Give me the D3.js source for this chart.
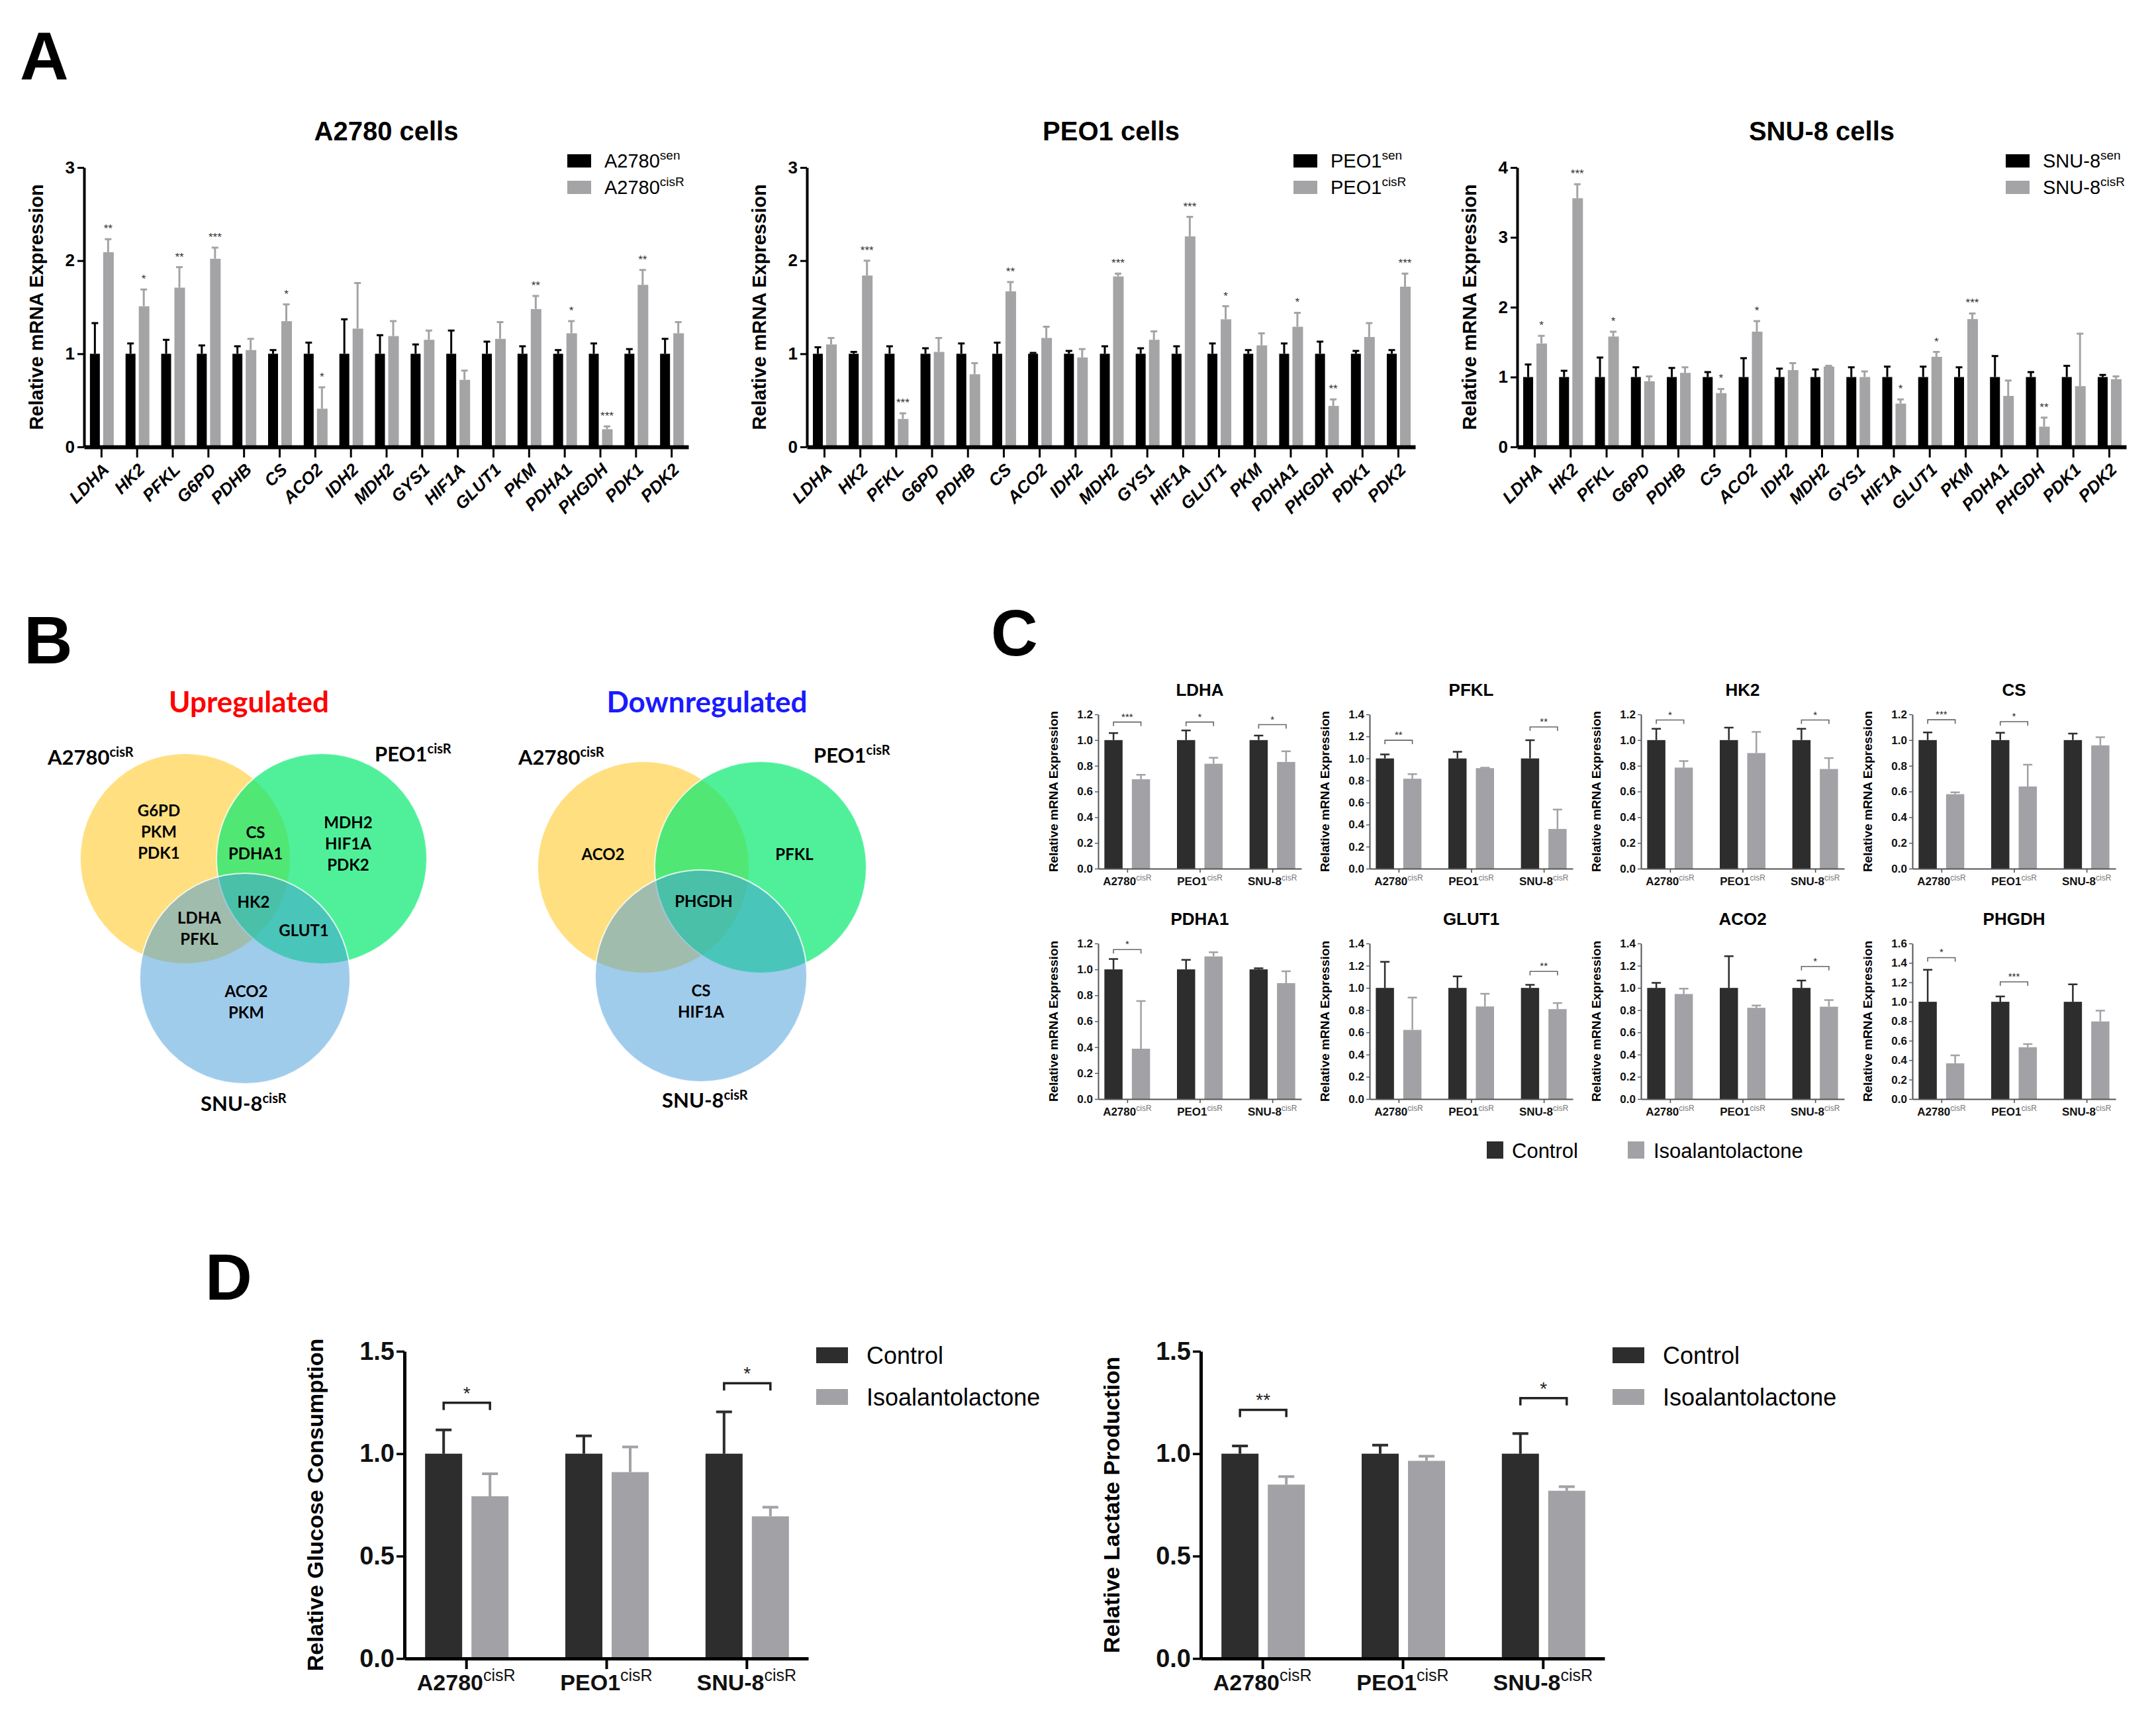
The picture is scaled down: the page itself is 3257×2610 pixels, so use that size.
<!DOCTYPE html>
<html><head><meta charset="utf-8">
<script src="https://cdn.jsdelivr.net/npm/d3@7"></script>
<style>body{margin:0;background:#fff}svg{display:block}</style>
</head><body><svg id="fig" width="3257" height="2610"></svg>
<script>
// ---------------- DATA ----------------
// Panel A
const genes = ["LDHA","HK2","PFKL","G6PD","PDHB","CS","ACO2","IDH2","MDH2","GYS1","HIF1A","GLUT1","PKM","PDHA1","PHGDH","PDK1","PDK2"];
const a2780Sen    = [1,1,1,1,1,1,1,1,1,1,1,1,1,1,1,1,1];
const a2780SenErr = [0.33,0.11,0.15,0.09,0.08,0.04,0.12,0.37,0.20,0.10,0.25,0.13,0.08,0.04,0.11,0.05,0.16];
const a2780Cis    = [2.09,1.51,1.71,2.02,1.04,1.35,0.41,1.27,1.19,1.15,0.72,1.16,1.48,1.22,0.19,1.74,1.22];
const a2780CisErr = [0.14,0.18,0.22,0.12,0.12,0.18,0.23,0.49,0.16,0.10,0.10,0.18,0.14,0.13,0.03,0.16,0.12];
const a2780Sig    = ["**","*","**","***","","*","*","","","","","","**","*","***","**",""];
const peo1Sen     = [1,1,1,1,1,1,1,1,1,1,1,1,1,1,1,1,1];
const peo1SenErr  = [0.07,0.02,0.08,0.06,0.11,0.12,0.01,0.03,0.08,0.06,0.08,0.11,0.04,0.11,0.13,0.03,0.04];
const peo1Cis     = [1.10,1.84,0.30,1.02,0.78,1.67,1.17,0.96,1.83,1.15,2.26,1.37,1.09,1.29,0.44,1.18,1.72];
const peo1CisErr  = [0.07,0.16,0.06,0.15,0.12,0.10,0.12,0.09,0.03,0.09,0.21,0.14,0.13,0.15,0.07,0.15,0.14];
const peo1Sig     = ["","***","***","","","**","","","***","","***","*","","*","**","","***"];
const snu8Sen     = [1,1,1,1,1,1,1,1,1,1,1,1,1,1,1,1,1];
const snu8SenErr  = [0.18,0.09,0.28,0.14,0.13,0.07,0.27,0.12,0.11,0.14,0.15,0.15,0.14,0.30,0.07,0.16,0.03];
const snu8Cis     = [1.48,3.56,1.58,0.94,1.06,0.77,1.65,1.10,1.15,1.00,0.62,1.29,1.83,0.73,0.29,0.87,0.97];
const snu8CisErr  = [0.11,0.20,0.07,0.07,0.08,0.06,0.15,0.10,0.01,0.08,0.06,0.07,0.08,0.22,0.13,0.75,0.04];
const snu8Sig     = ["*","***","*","","","*","*","","","","*","*","***","","**","",""];

// Panel B (Venn contents)
const vennSets = ["A2780","PEO1","SNU-8"];
const upA = ["G6PD","PKM","PDK1"], upP = ["MDH2","HIF1A","PDK2"], upS = ["ACO2","PKM"];
const upAP = ["CS","PDHA1"], upAS = ["LDHA","PFKL"], upPS = ["GLUT1"], upAPS = ["HK2"];
const dnA = ["ACO2"], dnP = ["PFKL"], dnS = ["CS","HIF1A"], dnAPS = ["PHGDH"];

// Panel C
const cellLines = ["A2780","PEO1","SNU-8"];
const cGenes   = ["LDHA","PFKL","HK2","CS","PDHA1","GLUT1","ACO2","PHGDH"];
const cYMax    = [1.2,1.4,1.2,1.2,1.2,1.4,1.4,1.6];
const cCtrl    = [[1,1,1],[1,1,1],[1,1,1],[1,1,1],[1,1,1],[1,1,1],[1,1,1],[1,1,1]];
const cCtrlErr = [[0.055,0.075,0.035],[0.037,0.06,0.165],[0.088,0.097,0.088],[0.06,0.057,0.051],[0.08,0.074,0.009],[0.234,0.103,0.027],[0.045,0.286,0.066],[0.33,0.055,0.18]];
const cIso     = [[0.695,0.816,0.83],[0.816,0.912,0.36],[0.786,0.899,0.775],[0.579,0.639,0.959],[0.388,1.10,0.894],[0.622,0.833,0.809],[0.945,0.821,0.831],[0.367,0.533,0.798]];
const cIsoErr  = [[0.035,0.047,0.083],[0.041,0.004,0.176],[0.051,0.165,0.085],[0.015,0.169,0.063],[0.368,0.032,0.091],[0.291,0.114,0.055],[0.048,0.02,0.059],[0.083,0.032,0.111]];
const cSig     = [["***","*","*"],["**","","**"],["*","","*"],["***","*",""],["*","",""],["","","**"],["","","*"],["*","***",""]];
const cBracket = [[1.14,1.14,1.12],[1.165,null,1.286],[1.156,null,1.156],[1.158,1.143,null],[1.153,null,null],[null,null,1.148],[null,null,1.193],[1.454,1.205,null]];

// Panel D
const glucoseCtrl = [1,1,1], glucoseCtrlErr = [0.116,0.087,0.204];
const glucoseIso = [0.792,0.91,0.694], glucoseIsoErr = [0.11,0.123,0.045];
const glucoseSig = ["*","","*"], glucoseBracket = [1.249,null,1.344];
const lactateCtrl = [1,1,1], lactateCtrlErr = [0.038,0.042,0.098];
const lactateIso = [0.849,0.965,0.819], lactateIsoErr = [0.039,0.023,0.02];
const lactateSig = ["**","","*"], lactateBracket = [1.214,null,1.271];
const legendLabels = ["Control","Isoalantolactone"];

// ---------------- DRAW ----------------
const FONT = "'Liberation Sans', Arial, Helvetica, sans-serif";
const VFONT = "Lato, 'Open Sans', sans-serif";
const svg = d3.select("#fig").attr("font-family", FONT);
svg.append("rect").attr("width",3257).attr("height",2610).attr("fill","#fff");

function letter(t, x, y, size) {
  svg.append("text").attr("x",x).attr("y",y).attr("font-size",size).attr("font-weight","bold").text(t);
}
letter("A", 30, 120, 102);
letter("B", 36, 1002, 102);
letter("C", 1497, 990, 98);
letter("D", 310, 1963, 98);

function errPath(cx, yTop, yErr, cw) {
  return `M${cx},${yTop}V${yErr}M${cx-cw/2},${yErr}H${cx+cw/2}`;
}

// ---------- Panel A ----------
function panelA(o) {
  const g = svg.append("g");
  const x = d3.scalePoint().domain(genes).range([o.x0, o.x1]).padding(0.48);
  const y = d3.scaleLinear().domain([0, o.ymax]).range([675, 253]);
  const rows = genes.map((k,i)=>({k, sen:o.sen[i], senErr:o.senErr[i], cis:o.cis[i], cisErr:o.cisErr[i], sig:o.sig[i]}));
  const bw = 15, black = "#000", gray = "#a4a4a6";
  g.selectAll("rect.sen").data(rows).join("rect").attr("class","sen")
    .attr("x", d=>x(d.k)-bw-2).attr("y", d=>y(d.sen)).attr("width", bw).attr("height", d=>y(0)-y(d.sen)).attr("fill", black);
  g.selectAll("rect.cis").data(rows).join("rect").attr("class","cis")
    .attr("x", d=>x(d.k)+3).attr("y", d=>y(d.cis)).attr("width", bw+1).attr("height", d=>y(0)-y(d.cis)).attr("fill", gray);
  g.selectAll("path.senErr").data(rows).join("path").attr("class","senErr")
    .attr("d", d=>errPath(x(d.k)-bw/2-2, y(d.sen), y(d.sen+d.senErr), 10)).attr("stroke", black).attr("stroke-width",3).attr("fill","none");
  g.selectAll("path.cisErr").data(rows).join("path").attr("class","cisErr")
    .attr("d", d=>errPath(x(d.k)+3+bw/2, y(d.cis), y(d.cis+d.cisErr), 10)).attr("stroke", gray).attr("stroke-width",3).attr("fill","none");
  g.selectAll("text.sig").data(rows.filter(d=>d.sig)).join("text").attr("class","sig")
    .attr("x", d=>x(d.k)+3+bw/2).attr("y", d=>y(d.cis+d.cisErr)-10)
    .attr("text-anchor","middle").attr("font-size",17).attr("fill","#333").text(d=>d.sig);
  // axes
  g.append("g").attr("transform",`translate(${o.x0},0)`)
    .call(d3.axisLeft(y).tickValues(d3.range(0,o.ymax+1)).tickFormat(d3.format("d")).tickSize(10).tickSizeOuter(0))
    .call(s=>{ s.attr("font-family",FONT).attr("font-size",26).attr("font-weight","bold");
      s.select(".domain").attr("stroke-width",4).attr("stroke","#000");
      s.selectAll(".tick line").attr("stroke-width",3);
      s.selectAll(".tick text").attr("fill","#000").attr("x",-14); });
  g.append("g").attr("transform",`translate(0,${y(0)})`)
    .call(d3.axisBottom(x).tickSize(16).tickSizeOuter(0))
    .call(s=>{ s.attr("font-family",FONT).attr("font-size",26).attr("font-weight","bold").attr("font-style","italic");
      s.select(".domain").attr("stroke-width",6).attr("stroke","#000");
      s.selectAll(".tick line").attr("stroke-width",3);
      s.selectAll(".tick text").attr("fill","#000").attr("x",0).attr("y",0).attr("dy",0)
        .attr("text-anchor","end").attr("transform","translate(13,36) rotate(-45)"); });
  // y title
  g.append("text").attr("transform",`translate(${o.x0-62},${(y(0)+y(o.ymax))/2}) rotate(-90)`)
    .attr("text-anchor","middle").attr("font-size",29).attr("font-weight","bold").text("Relative mRNA Expression");
  // title
  g.append("text").attr("x",(o.x0+o.x1)/2).attr("y",212).attr("text-anchor","middle")
    .attr("font-size",40).attr("font-weight","bold").text(o.title);
  // legend
  const lg = g.append("g").attr("transform",`translate(${o.legendX},0)`);
  [["sen",black,233],["cisR",gray,273]].forEach(([sup,c,yy])=>{
    lg.append("rect").attr("x",0).attr("y",yy).attr("width",36).attr("height",20).attr("fill",c);
    const t = lg.append("text").attr("x",56).attr("y",yy+20).attr("font-size",29).text(o.cell);
    t.append("tspan").attr("dy",-12).attr("font-size",19).text(sup);
  });
}
panelA({x0:127,x1:1040,ymax:3,title:"A2780 cells",cell:"A2780",sen:a2780Sen,senErr:a2780SenErr,cis:a2780Cis,cisErr:a2780CisErr,sig:a2780Sig,legendX:857});
panelA({x0:1219,x1:2138,ymax:3,title:"PEO1 cells",cell:"PEO1",sen:peo1Sen,senErr:peo1SenErr,cis:peo1Cis,cisErr:peo1CisErr,sig:peo1Sig,legendX:1954});
panelA({x0:2292,x1:3212,ymax:4,title:"SNU-8 cells",cell:"SNU-8",sen:snu8Sen,senErr:snu8SenErr,cis:snu8Cis,cisErr:snu8CisErr,sig:snu8Sig,legendX:3030});

// ---------- Panel B (Venn) ----------
function venn(o) {
  const g = svg.append("g");
  const cols = [["rgb(255,192,0)",0.5],["rgb(5,233,112)",0.7],["rgb(65,153,217)",0.5]];
  o.circles.forEach((c,i)=>{
    g.append("circle").attr("cx",c[0]).attr("cy",c[1]).attr("r",o.r)
      .attr("fill",cols[i][0]).attr("fill-opacity",cols[i][1]).attr("stroke","#fff").attr("stroke-width",2).attr("stroke-opacity",0.8);
  });
  g.append("text").attr("x",o.titleX).attr("y",1076).attr("text-anchor","middle").attr("font-family",VFONT)
    .attr("font-size",44).attr("font-weight","bold").attr("fill",o.titleColor).text(o.title);
  o.setLabels.forEach((p,i)=>{
    const t = g.append("text").attr("x",p[0]).attr("y",p[1]).attr("font-family",VFONT).attr("font-size",31).attr("font-weight","bold").text(vennSets[i]);
    t.append("tspan").attr("dy",-12).attr("font-size",20).text("cisR");
  });
  o.regions.forEach(([items,cx,cy])=>{
    const n = items.length;
    items.forEach((s,j)=>{
      g.append("text").attr("x",cx).attr("y",cy+(j-(n-1)/2)*32).attr("dy","0.35em").attr("text-anchor","middle")
        .attr("font-family",VFONT).attr("font-size",24).attr("font-weight","bold").text(s);
    });
  });
}
venn({title:"Upregulated",titleColor:"#ff0000",titleX:376,r:159,
  circles:[[280,1297],[486,1297],[370,1478]],
  setLabels:[[72,1155],[566,1150],[303,1678]],
  regions:[[upA,240,1257],[upP,526,1275],[upS,372,1514],[upAP,386,1274],[upAS,301,1403],[upPS,459,1406],[upAPS,383,1363]]});
venn({title:"Downregulated",titleColor:"#1a1aff",titleX:1068,r:160,
  circles:[[972,1310],[1149,1310],[1059,1474]],
  setLabels:[[783,1155],[1229,1152],[1000,1673]],
  regions:[[dnA,911,1291],[dnP,1200,1291],[dnS,1059,1513],[dnAPS,1063,1362]]});

// ---------- grouped Control/Iso chart (Panels C, D) ----------
const CTRL = "#2d2d2d", ISO = "#a2a2a6";
function grouped(o) {
  const g = svg.append("g");
  const x = d3.scalePoint().domain(cellLines).range([o.ax, o.ax+o.w]).padding(o.pad);
  const y = d3.scaleLinear().domain([0, o.ymax]).range([o.yb, o.yt]);
  const rows = cellLines.map((k,i)=>({k, c:o.ctrl[i], ce:o.ctrlErr[i], v:o.iso[i], ve:o.isoErr[i], sig:o.sig[i], b:o.bracket[i]}));
  const bw = o.barW;
  const cx = d=>x(d.k)+o.ctrlOff+bw/2, ix = d=>x(d.k)+o.isoOff+bw/2;
  g.selectAll("path.ce").data(rows).join("path").attr("class","ce")
    .attr("d", d=>errPath(cx(d), y(d.c), y(d.c+d.ce), o.capW)).attr("stroke",CTRL).attr("stroke-width",o.errW).attr("fill","none");
  g.selectAll("path.ve").data(rows).join("path").attr("class","ve")
    .attr("d", d=>errPath(ix(d), y(d.v), y(d.v+d.ve), o.capW)).attr("stroke",ISO).attr("stroke-width",o.errW).attr("fill","none");
  g.selectAll("rect.c").data(rows).join("rect").attr("class","c")
    .attr("x", d=>x(d.k)+o.ctrlOff).attr("y", d=>y(d.c)).attr("width",bw).attr("height", d=>y(0)-y(d.c)).attr("fill",CTRL);
  g.selectAll("rect.v").data(rows).join("rect").attr("class","v")
    .attr("x", d=>x(d.k)+o.isoOff).attr("y", d=>y(d.v)).attr("width",bw).attr("height", d=>y(0)-y(d.v)).attr("fill",ISO);
  const br = rows.filter(d=>d.b!=null);
  g.selectAll("path.br").data(br).join("path").attr("class","br")
    .attr("d", d=>`M${cx(d)},${y(d.b)+o.brTick}V${y(d.b)}H${ix(d)}V${y(d.b)+o.brTick}`)
    .attr("stroke",o.brColor).attr("stroke-width",o.brW).attr("fill","none");
  g.selectAll("text.sig").data(br).join("text").attr("class","sig")
    .attr("x", d=>(cx(d)+ix(d))/2).attr("y", d=>y(d.b)-o.starGap).attr("text-anchor","middle")
    .attr("font-size",o.starFont).attr("fill","#222").text(d=>d.sig);
  // y axis
  g.append("g").attr("transform",`translate(${o.ax},0)`)
    .call(d3.axisLeft(y).tickValues(d3.range(0, o.ymax+1e-6, o.step)).tickFormat(d3.format(".1f")).tickSize(o.tickSize).tickSizeOuter(0))
    .call(s=>{ s.attr("font-family",FONT).attr("font-size",o.tickFont).attr("font-weight","bold");
      s.select(".domain").attr("stroke-width",o.axisW).attr("stroke",o.axisColor);
      s.selectAll(".tick line").attr("stroke-width",o.axisW*0.7).attr("stroke",o.axisColor);
      s.selectAll(".tick text").attr("fill","#111").attr("x",-(o.tickSize+3)); });
  // x axis
  g.append("g").attr("transform",`translate(0,${o.yb})`)
    .call(d3.axisBottom(x).tickSize(o.xTick).tickSizeOuter(0).tickFormat(""))
    .call(s=>{ s.select(".domain").attr("stroke-width",o.axisW).attr("stroke",o.axisColor);
      s.selectAll(".tick line").attr("stroke-width",o.axisW*0.8).attr("stroke",o.axisColor); });
  g.selectAll("text.xl").data(rows).join("text").attr("class","xl")
    .attr("x", d=>x(d.k)).attr("y", o.yb+o.xLabDy).attr("text-anchor","middle")
    .attr("font-size",o.xFont).attr("font-weight","bold").attr("fill","#111")
    .each(function(d){ const t=d3.select(this); t.text(d.k);
      t.append("tspan").attr("dy",-o.supDy).attr("font-size",o.supFont).attr("font-weight",o.supWeight).attr("fill",o.supColor).text("cisR"); });
  g.append("text").attr("transform",`translate(${o.ax-o.yTitleOff},${(o.yb+o.yt)/2}) rotate(-90)`)
    .attr("text-anchor","middle").attr("font-size",o.yTitleFont).attr("font-weight","bold").text(o.yTitle);
  if (o.title) g.append("text").attr("x",o.ax+o.w/2).attr("y",o.yt-28).attr("text-anchor","middle")
    .attr("font-size",26).attr("font-weight","bold").text(o.title);
}

cGenes.forEach((gn,i)=>{
  const col = i%4, row = Math.floor(i/4);
  grouped({ax:1659+col*410, w:307, yb: row?1660:1312, yt: row?1425:1079, ymax:cYMax[i], step:0.2, pad:0.4,
    ctrl:cCtrl[i], ctrlErr:cCtrlErr[i], iso:cIso[i], isoErr:cIsoErr[i], sig:cSig[i], bracket:cBracket[i],
    barW:27.5, ctrlOff:-34.5, isoOff:7, errW:2.5, capW:14, brTick:6, brW:1.6, brColor:"#666", starGap:3, starFont:15,
    tickSize:5, tickFont:17, axisW:2, axisColor:"#555", xTick:6, xLabDy:25, xFont:17, supFont:12, supDy:7, supWeight:"normal", supColor:"#777",
    yTitle:"Relative mRNA Expression", yTitleOff:61, yTitleFont:19, title:gn});
});
// legend C
[[2246,CTRL,2284,0],[2459,ISO,2498,1]].forEach(([rx,c,tx,i])=>{
  svg.append("rect").attr("x",rx).attr("y",1724).attr("width",25).attr("height",26).attr("fill",c);
  svg.append("text").attr("x",tx).attr("y",1749).attr("font-size",31).text(legendLabels[i]);
});

// Panel D
function panelD(ax, yTitle, ctrl, ctrlErr, iso, isoErr, sig, bracket) {
  grouped({ax, w:610, yb:2505, yt:2041, ymax:1.5, step:0.5, pad:0.44,
    ctrl, ctrlErr, iso, isoErr, sig, bracket,
    barW:56, ctrlOff:-62, isoOff:8, errW:4, capW:24, brTick:11, brW:3.5, brColor:"#222", starGap:5, starFont:28,
    tickSize:12, tickFont:38, axisW:5, axisColor:"#000", xTick:16, xLabDy:48, xFont:34, supFont:25, supDy:14, supWeight:"normal", supColor:"#111",
    yTitle, yTitleOff:123, yTitleFont:34, title:null});
  [[CTRL,2035,0],[ISO,2098,1]].forEach(([c,yy,i])=>{
    svg.append("rect").attr("x",ax+622).attr("y",yy).attr("width",48).attr("height",24).attr("fill",c);
    svg.append("text").attr("x",ax+698).attr("y",yy+25).attr("font-size",36).text(legendLabels[i]);
  });
}
panelD(611, "Relative Glucose Consumption", glucoseCtrl, glucoseCtrlErr, glucoseIso, glucoseIsoErr, glucoseSig, glucoseBracket);
panelD(1814, "Relative Lactate Production", lactateCtrl, lactateCtrlErr, lactateIso, lactateIsoErr, lactateSig, lactateBracket);
</script></body></html>
